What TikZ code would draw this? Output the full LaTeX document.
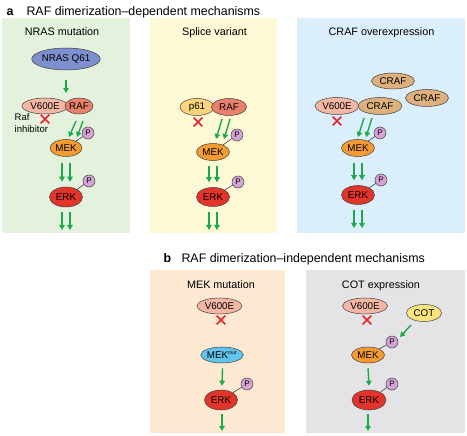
\documentclass[tikz,border=0pt]{standalone}
\usepackage{fontspec}
\setmainfont{Liberation Sans}
\usetikzlibrary{shapes.geometric,shapes.misc,arrows.meta}
\definecolor{pgreen}{HTML}{E3F1DD}
\definecolor{pyellow}{HTML}{FDF8D5}
\definecolor{pblue}{HTML}{DBEEFC}
\definecolor{ppeach}{HTML}{FDE8D2}
\definecolor{pgrey}{HTML}{E4E4E6}
\definecolor{cnras}{HTML}{7D8FCF}
\definecolor{cv600}{HTML}{F5B7A5}
\definecolor{craf}{HTML}{E9806B}
\definecolor{cmek}{HTML}{F39B30}
\definecolor{cerk}{HTML}{E3342B}
\definecolor{cp}{HTML}{D6A3D6}
\definecolor{ccraf}{HTML}{DDB07D}
\definecolor{cp61}{HTML}{F9D47C}
\definecolor{cmekmut}{HTML}{62C4EC}
\definecolor{ccot}{HTML}{FBE47E}
\definecolor{agreen}{HTML}{1AAA4B}
\definecolor{xred}{HTML}{E8202A}
\tikzset{
  panel/.style={draw=none},
  ell/.style={ellipse, draw=black!75, line width=0.5pt, inner sep=0pt,
    font=\fontsize{9.8}{9.8}\selectfont},
  pcirc/.style={circle, draw=black!75, line width=0.5pt, fill=cp, inner sep=0pt,
    minimum size=12pt, font=\fontsize{8}{8}\selectfont},
  plink/.style={draw=black!75, line width=0.6pt},
  garrow/.style={draw=agreen, line width=1.4pt, -{Triangle[length=5pt,width=5.5pt]}},
  xmk/.style={cross out, draw=xred, line width=1.6pt, minimum size=7pt, inner sep=0pt},
  ttl/.style={anchor=base west, font=\fontsize{12.4}{12.4}\selectfont},
  hdg/.style={anchor=base, font=\fontsize{10.8}{10.8}\selectfont},
}
\begin{document}
\begin{tikzpicture}[x=1pt,y=-1pt]
\useasboundingbox (0,0) rectangle (467,436);
% panels
\fill[panel,pgreen] (2,18) rectangle (130,233);
\fill[panel,pyellow] (150,18) rectangle (277,233);
\fill[panel,pblue] (297,18) rectangle (465,233);
\fill[panel,ppeach] (150,270) rectangle (285,433);
\fill[panel,pgrey] (306,270) rectangle (465,433);
% titles
\node[ttl,font=\fontsize{12.4}{12.4}\selectfont\bfseries] (ta) at (3,16) {a};
\node[ttl] (tat) at (23,16) {RAF dimerization–dependent mechanisms};
\node[ttl,font=\fontsize{12.4}{12.4}\selectfont\bfseries] (tb) at (160,263) {b};
\node[ttl] (tbt) at (178,263) {RAF dimerization–independent mechanisms};
\node[hdg] (h1) at (62,36) {NRAS mutation};
\node[hdg] (h2) at (214.5,36) {Splice variant};
\node[hdg] (h3) at (381.5,36) {CRAF overexpression};
\node[hdg] (h4) at (221,288) {MEK mutation};
\node[hdg] (h5) at (381,288) {COT expression};

% ---- panel 1: NRAS mutation
\node[ell,fill=cnras,minimum width=55pt,minimum height=22pt] (nras) at (66,59) {NRAS Q61};
\node[ell,fill=cv600,minimum width=46pt,minimum height=16pt] (v1) at (45,106) {V600E};
\node[ell,fill=craf,minimum width=28pt,minimum height=16pt] (raf1) at (79,106) {RAF};
\node[anchor=north west,align=left,inner sep=0pt,font=\fontsize{9.5}{12.5}\selectfont] (inh) at (14.5,113) {Raf\\inhibitor};
\node[xmk] (x1) at (45,119) {};
\node[ell,fill=cmek,minimum width=32pt,minimum height=17pt] (mek1) at (66,148) {MEK};
\node[ell,fill=cerk,minimum width=33pt,minimum height=20pt] (erk1) at (66,197) {ERK};
\node[pcirc] (p1a) at (88,133) {P};
\node[pcirc] (p1b) at (89,181) {P};
\draw[plink] (p1a) -- (mek1);
\draw[plink] (p1b) -- (erk1);
\coordinate (n1e) at (66,93);
\draw[garrow] ([yshift=-10pt]nras.south) -- (n1e);
\coordinate (a1s) at (76,121); \coordinate (a1e) at (69,137);
\coordinate (a2s) at (83,121); \coordinate (a2e) at (77,137);
\draw[garrow] (a1s) -- (a1e);
\draw[garrow] (a2s) -- (a2e);
\draw[garrow] ([xshift=-4pt,yshift=-6pt]mek1.south) -- ([xshift=-4pt,yshift=5pt]erk1.north);
\draw[garrow] ([xshift=4pt,yshift=-6pt]mek1.south) -- ([xshift=4pt,yshift=5pt]erk1.north);
\coordinate (e1a) at (62,230); \coordinate (e1b) at (70,230);
\draw[garrow] ([xshift=-4pt,yshift=-5pt]erk1.south) -- (e1a);
\draw[garrow] ([xshift=4pt,yshift=-5pt]erk1.south) -- (e1b);

% ---- panel 2: splice variant
\node[ell,fill=cp61,minimum width=34pt,minimum height=17pt] (p61) at (197,107) {p61};
\node[ell,fill=craf,minimum width=35pt,minimum height=17pt] (raf2) at (229,107) {RAF};
\node[xmk] (x2) at (198,122) {};
\node[ell,fill=cmek,minimum width=33pt,minimum height=17pt] (mek2) at (213,152) {MEK};
\node[ell,fill=cerk,minimum width=33pt,minimum height=19pt] (erk2) at (213,197) {ERK};
\node[pcirc] (p2a) at (237,135) {P};
\node[pcirc] (p2b) at (238,182) {P};
\draw[plink] (p2a) -- (mek2);
\draw[plink] (p2b) -- (erk2);
\coordinate (b1s) at (222,119); \coordinate (b1e) at (216,139);
\coordinate (b2s) at (230,119); \coordinate (b2e) at (224,139);
\draw[garrow] (b1s) -- (b1e);
\draw[garrow] (b2s) -- (b2e);
\draw[garrow] ([xshift=-4pt,yshift=-5pt]mek2.south) -- ([xshift=-4pt,yshift=5pt]erk2.north);
\draw[garrow] ([xshift=4pt,yshift=-5pt]mek2.south) -- ([xshift=4pt,yshift=5pt]erk2.north);
\coordinate (e2a) at (209,230); \coordinate (e2b) at (217,230);
\draw[garrow] ([xshift=-4pt,yshift=-5pt]erk2.south) -- (e2a);
\draw[garrow] ([xshift=4pt,yshift=-5pt]erk2.south) -- (e2b);

% ---- panel 3: CRAF overexpression
\node[ell,fill=ccraf,minimum width=43pt,minimum height=16pt] (craft) at (393,81) {CRAF};
\node[ell,fill=ccraf,minimum width=43pt,minimum height=17pt] (crafr) at (427,98) {CRAF};
\node[ell,fill=cv600,minimum width=44pt,minimum height=17pt] (v3) at (337,106) {V600E};
\node[ell,fill=ccraf,minimum width=44pt,minimum height=17pt] (crafm) at (380,106) {CRAF};
\node[xmk] (x3) at (337,121) {};
\node[ell,fill=cmek,minimum width=33pt,minimum height=17pt] (mek3) at (358,148) {MEK};
\node[ell,fill=cerk,minimum width=33pt,minimum height=19pt] (erk3) at (358,195) {ERK};
\node[pcirc] (p3a) at (380,133) {P};
\node[pcirc] (p3b) at (381,180) {P};
\draw[plink] (p3a) -- (mek3);
\draw[plink] (p3b) -- (erk3);
\coordinate (c1s) at (364,118); \coordinate (c1e) at (358,137);
\coordinate (c2s) at (372,118); \coordinate (c2e) at (366,137);
\draw[garrow] (c1s) -- (c1e);
\draw[garrow] (c2s) -- (c2e);
\draw[garrow] ([xshift=-4pt,yshift=-6pt]mek3.south) -- ([xshift=-4pt,yshift=5pt]erk3.north);
\draw[garrow] ([xshift=4pt,yshift=-6pt]mek3.south) -- ([xshift=4pt,yshift=5pt]erk3.north);
\coordinate (e3a) at (354,228); \coordinate (e3b) at (362,228);
\draw[garrow] ([xshift=-4pt,yshift=-5pt]erk3.south) -- (e3a);
\draw[garrow] ([xshift=4pt,yshift=-5pt]erk3.south) -- (e3b);

% ---- panel b1: MEK mutation
\node[ell,fill=cv600,minimum width=45pt,minimum height=16pt] (v4) at (219.5,306) {V600E};
\node[xmk] (x4) at (221,320) {};
\node[ell,fill=cmekmut,minimum width=40pt,minimum height=16pt] (mekmut) at (222,355) {MEK\textsuperscript{\fontsize{5}{5}\selectfont mut}};
\node[ell,fill=cerk,minimum width=33pt,minimum height=20pt] (erk4) at (221,400) {ERK};
\node[pcirc] (p4) at (247,384) {P};
\draw[plink] (p4) -- (erk4);
\draw[garrow] ([xshift=0.5pt,yshift=-5pt]mekmut.south) -- ([xshift=1pt,yshift=4pt]erk4.north);
\coordinate (e4) at (222,431);
\draw[garrow] ([xshift=1pt,yshift=-4pt]erk4.south) -- (e4);

% ---- panel b2: COT expression
\node[ell,fill=cv600,minimum width=45pt,minimum height=16pt] (v5) at (365,306) {V600E};
\node[xmk] (x5) at (367,320) {};
\node[ell,fill=ccot,minimum width=35pt,minimum height=17pt] (cot) at (424,313) {COT};
\node[ell,fill=cmek,minimum width=33pt,minimum height=16pt] (mek5) at (368,355) {MEK};
\node[ell,fill=cerk,minimum width=34pt,minimum height=20pt] (erk5) at (369,400) {ERK};
\node[pcirc] (p5a) at (392,342) {P};
\node[pcirc] (p5b) at (392,384) {P};
\draw[plink] (p5a) -- (mek5);
\draw[plink] (p5b) -- (erk5);
\coordinate (d1s) at (411,325);
\coordinate (d1e) at (400,337);
\draw[garrow] (d1s) -- (d1e);
\draw[garrow] ([yshift=-5pt]mek5.south) -- ([yshift=4pt]erk5.north);
\coordinate (e5) at (368,431);
\draw[garrow] ([xshift=-1pt,yshift=-4pt]erk5.south) -- (e5);
\end{tikzpicture}
\end{document}
